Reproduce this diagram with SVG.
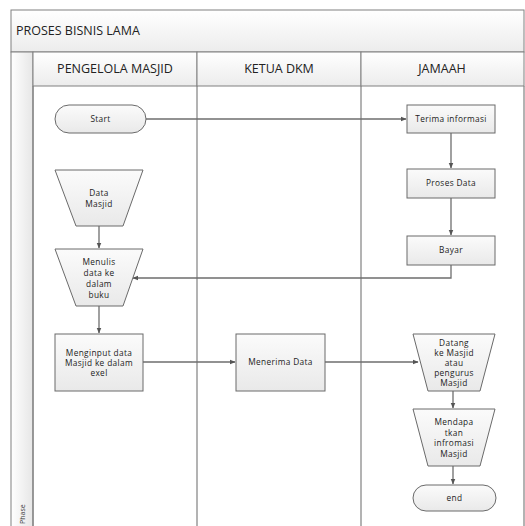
<svg xmlns="http://www.w3.org/2000/svg" width="525" height="526" viewBox="0 0 525 526">
<style>
.band{fill:url(#gband);stroke:#808080;stroke-width:1}
.shape{fill:url(#gshape);stroke:#6a6a6a;stroke-width:1}
.t{font-family:"Open Sans","Liberation Sans",sans-serif;font-size:8.3px;letter-spacing:0.35px;fill:#222;text-anchor:middle}
.h{font-family:"Open Sans","Liberation Sans",sans-serif;font-size:12.5px;fill:#222;text-anchor:middle}
.c{fill:none;stroke:#6e6e6e;stroke-width:1.3;marker-end:url(#arr)}
.lane{stroke:#808080;stroke-width:1.2}
</style>
<defs>
<linearGradient id="gband" x1="0" y1="0" x2="0" y2="1"><stop offset="0" stop-color="#ffffff"/><stop offset="1" stop-color="#ececec"/></linearGradient>
<linearGradient id="gphase" x1="0" y1="0" x2="1" y2="0"><stop offset="0" stop-color="#ffffff"/><stop offset="1" stop-color="#e6e6e6"/></linearGradient>
<linearGradient id="gshape" x1="0" y1="0" x2="0" y2="1"><stop offset="0" stop-color="#fbfbfb"/><stop offset="1" stop-color="#e9e9e9"/></linearGradient>
<marker id="arr" viewBox="0 0 10 10" refX="9" refY="5" markerWidth="6" markerHeight="6" orient="auto" markerUnits="userSpaceOnUse"><path d="M0,1 L10,5 L0,9 z" fill="#555"/></marker>
</defs>
<rect width="525" height="526" fill="#fff"/>
<g id="pool">
<rect x="11" y="10" width="513" height="42" class="band"/>
<text x="16" y="35" font-family="'Open Sans','Liberation Sans',sans-serif" font-size="12.5" fill="#222">PROSES BISNIS LAMA</text>
<rect x="11" y="52" width="22" height="480" fill="url(#gphase)" stroke="#808080" stroke-width="1"/>
<text transform="translate(25,524) rotate(-90)" font-family="'Open Sans','Liberation Sans',sans-serif" font-size="7" fill="#333">Phase</text>
<rect x="33" y="52" width="164" height="34" class="band"/>
<rect x="197" y="52" width="164" height="34" class="band"/>
<rect x="361" y="52" width="163" height="34" class="band"/>
<text x="115" y="73" class="h">PENGELOLA MASJID</text>
<text x="279" y="73" class="h">KETUA DKM</text>
<text x="442" y="73" class="h">JAMAAH</text>
<line x1="33" y1="86" x2="33" y2="526" class="lane"/>
<line x1="197" y1="86" x2="197" y2="526" class="lane"/>
<line x1="361" y1="86" x2="361" y2="526" class="lane"/>
<line x1="524" y1="86" x2="524" y2="526" class="lane"/>
</g>
<g id="connectors">
<path class="c" d="M146,119 H406"/>
<path class="c" d="M451,133 V168"/>
<path class="c" d="M451,198 V235"/>
<path class="c" d="M451,265 V278 H133"/>
<path class="c" d="M99,226 V248"/>
<path class="c" d="M99,306 V333"/>
<path class="c" d="M143,362 H235"/>
<path class="c" d="M325,362 H418"/>
<path class="c" d="M453,391 V408"/>
<path class="c" d="M453,466 V484"/>
</g>
<g id="start"><rect x="55" y="105" width="91" height="28" rx="14" class="shape"/><text x="100.5" y="122" class="t">Start</text></g>
<g id="terima"><rect x="407" y="105" width="88" height="28" class="shape"/><text x="451" y="122" class="t">Terima informasi</text></g>
<g id="proses"><rect x="407" y="169" width="88" height="29" class="shape"/><text x="451" y="186" class="t">Proses Data</text></g>
<g id="bayar"><rect x="407" y="236" width="88" height="29" class="shape"/><text x="451" y="253" class="t">Bayar</text></g>
<g id="datamasjid"><path d="M55,170 H143 L123,226 H76 Z" class="shape"/><text x="99" y="196" class="t">Data</text><text x="99" y="207" class="t">Masjid</text></g>
<g id="menulis"><path d="M55,249 H143 L123,306 H76 Z" class="shape"/><text x="99" y="265" class="t">Menulis</text><text x="99" y="276" class="t">data ke</text><text x="99" y="287" class="t">dalam</text><text x="99" y="298" class="t">buku</text></g>
<g id="menginput"><rect x="55" y="334" width="88" height="57" class="shape"/><text x="99" y="356" class="t">Menginput data</text><text x="99" y="366" class="t">Masjid ke dalam</text><text x="99" y="376" class="t">exel</text></g>
<g id="menerima"><rect x="236" y="334" width="89" height="57" class="shape"/><text x="280.5" y="365" class="t">Menerima Data</text></g>
<g id="datang"><path d="M413,334 H495 L480,391 H428 Z" class="shape"/><text x="454" y="346" class="t">Datang</text><text x="454" y="356" class="t">ke Masjid</text><text x="454" y="366" class="t">atau</text><text x="454" y="376" class="t">pengurus</text><text x="454" y="386" class="t">Masjid</text></g>
<g id="mendapatkan"><path d="M413,409 H495 L480,466 H428 Z" class="shape"/><text x="454" y="425" class="t">Mendapa</text><text x="454" y="435.5" class="t">tkan</text><text x="454" y="446" class="t">infromasi</text><text x="454" y="456.5" class="t">Masjid</text></g>
<g id="end"><rect x="413" y="485" width="83" height="26" rx="13" class="shape"/><text x="454.5" y="501" class="t">end</text></g>
</svg>
